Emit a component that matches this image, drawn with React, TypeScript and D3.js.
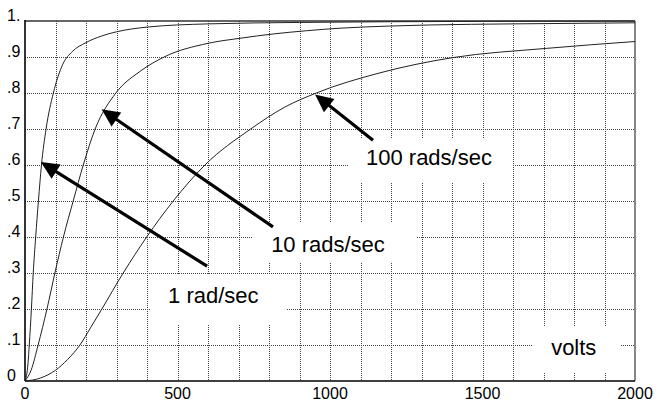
import React, { useRef, useEffect } from 'react';
import * as d3 from 'd3';

// curve data
const fastX = [0, 10, 14, 21, 27, 35, 44, 54, 69, 93, 124, 155, 200, 250, 300, 400, 600, 900, 1500, 2000];
const fastY = [0, 0.05, 0.1, 0.2, 0.3, 0.4, 0.5, 0.6, 0.7, 0.8, 0.88, 0.915, 0.94, 0.958, 0.97, 0.983, 0.992, 0.996, 0.999, 1.0];

const midX = [0, 20, 43, 72, 98, 126, 158, 191, 230, 298, 377, 456, 600, 705, 814, 923, 1033, 1197, 1328, 1600, 2000];
const midY = [0, 0.03, 0.1, 0.2, 0.3, 0.4, 0.5, 0.6, 0.7, 0.8, 0.86, 0.9, 0.938, 0.952, 0.964, 0.973, 0.98, 0.986, 0.989, 0.992, 0.995];

const slowX = [0, 50, 100, 140, 180, 215, 252, 322, 399, 486, 590, 740, 850, 955, 1164, 1400, 1710, 2000];
const slowY = [0, 0.008, 0.03, 0.06, 0.1, 0.148, 0.2, 0.3, 0.4, 0.5, 0.6, 0.7, 0.76, 0.8, 0.856, 0.898, 0.924, 0.943];

const xTickValues = [0, 500, 1000, 1500, 2000];
const xTickLabels = ['0', '500', '1000', '1500', '2000'];
const yTickValues = [1, 0.9, 0.8, 0.7, 0.6, 0.5, 0.4, 0.3, 0.2, 0.1, 0];
const yTickLabels = ['1.', '.9', '.8', '.7', '.6', '.5', '.4', '.3', '.2', '.1', '0'];

// labels: text anchor + white box, in data units
const labels = [
  { text: '1 rad/sec', x: 469, y: 0.217, box: [410, 856, 0.297, 0.156] },
  { text: '10 rads/sec', x: 807, y: 0.359, box: [748, 1285, 0.439, 0.331] },
  { text: '100 rads/sec', x: 1118, y: 0.599, box: [1059, 1597, 0.672, 0.55] },
  { text: 'volts', x: 1725, y: 0.072, box: [1666, 1951, 0.15, 0.022] },
];

// arrows: tail -> tip, in data units
const arrows = [
  { from: [597, 0.319], to: [52, 0.608] },
  { from: [813, 0.428], to: [251, 0.755] },
  { from: [1141, 0.669], to: [951, 0.796] },
];

const W = 659;
const H = 402;

const App = () => {
  const svgRef = useRef(null);

  useEffect(() => {
    const svg = d3.select(svgRef.current);
    svg.selectAll('*').remove();

    const x = d3.scaleLinear().domain([0, 2000]).range([25, 635]);
    const y = d3.scaleLinear().domain([0, 1]).range([381, 21]);

    // grid
    const grid = svg.append('g')
      .attr('stroke', '#444')
      .attr('stroke-width', 1)
      .attr('stroke-dasharray', '1,1');

    grid.selectAll('.vg')
      .data(d3.range(100, 2000, 100))
      .enter()
      .append('line')
      .attr('x1', d => Math.round(x(d)) + 0.5)
      .attr('x2', d => Math.round(x(d)) + 0.5)
      .attr('y1', y(1))
      .attr('y2', y(0));

    grid.selectAll('.hg')
      .data(d3.range(1, 10).map(d => d / 10))
      .enter()
      .append('line')
      .attr('x1', x(0))
      .attr('x2', x(2000))
      .attr('y1', d => Math.round(y(d)) + 0.5)
      .attr('y2', d => Math.round(y(d)) + 0.5);

    // white boxes behind labels
    svg.selectAll('.box')
      .data(labels)
      .enter()
      .append('rect')
      .attr('x', d => x(d.box[0]))
      .attr('y', d => y(d.box[2]))
      .attr('width', d => x(d.box[1]) - x(d.box[0]))
      .attr('height', d => y(d.box[3]) - y(d.box[2]))
      .attr('fill', '#fff');

    // frame
    svg.append('line')
      .attr('x1', x(0)).attr('x2', x(2000))
      .attr('y1', y(1)).attr('y2', y(1))
      .attr('stroke', '#333').attr('stroke-width', 1.6);
    svg.append('line')
      .attr('x1', x(2000)).attr('x2', x(2000))
      .attr('y1', y(1)).attr('y2', y(0))
      .attr('stroke', '#555').attr('stroke-width', 1.4);
    svg.append('line')
      .attr('x1', x(0)).attr('x2', x(0))
      .attr('y1', y(1) - 1).attr('y2', y(0))
      .attr('stroke', '#000').attr('stroke-width', 1.6);
    svg.append('line')
      .attr('x1', x(0)).attr('x2', x(2000))
      .attr('y1', y(0)).attr('y2', y(0))
      .attr('stroke', '#000').attr('stroke-width', 1.6);

    // curves
    const line = d3.line()
      .x(d => x(d[0]))
      .y(d => y(d[1]))
      .curve(d3.curveMonotoneX);

    const series = [
      d3.zip(fastX, fastY),
      d3.zip(midX, midY),
      d3.zip(slowX, slowY),
    ];

    svg.selectAll('.curve')
      .data(series)
      .enter()
      .append('path')
      .attr('d', d => line(d))
      .attr('fill', 'none')
      .attr('stroke', '#222')
      .attr('stroke-width', 1);

    // arrows
    arrows.forEach(a => {
      const x0 = x(a.from[0]), y0 = y(a.from[1]);
      const x1 = x(a.to[0]), y1 = y(a.to[1]);
      const dx = x1 - x0, dy = y1 - y0;
      const len = Math.sqrt(dx * dx + dy * dy);
      const ux = dx / len, uy = dy / len;
      const headLen = 18, headHalf = 8.5;
      const bx = x1 - ux * headLen, by = y1 - uy * headLen;
      svg.append('line')
        .attr('x1', x0).attr('y1', y0)
        .attr('x2', bx + ux * 2).attr('y2', by + uy * 2)
        .attr('stroke', '#000')
        .attr('stroke-width', 3.2);
      svg.append('path')
        .attr('d', `M${x1},${y1}L${bx - uy * headHalf},${by + ux * headHalf}L${bx + uy * headHalf},${by - ux * headHalf}Z`)
        .attr('fill', '#000');
    });

    // label text
    svg.selectAll('.label')
      .data(labels)
      .enter()
      .append('text')
      .attr('x', d => x(d.x))
      .attr('y', d => y(d.y))
      .attr('font-family', 'Liberation Sans, Arial, sans-serif')
      .attr('font-size', 22)
      .attr('fill', '#000')
      .text(d => d.text);

    // axis labels
    svg.selectAll('.xt')
      .data(xTickValues)
      .enter()
      .append('text')
      .attr('x', d => x(d))
      .attr('y', 399)
      .attr('text-anchor', 'middle')
      .attr('font-family', 'Liberation Sans, Arial, sans-serif')
      .attr('font-size', 16)
      .text((d, i) => xTickLabels[i]);

    svg.selectAll('.yt')
      .data(yTickValues)
      .enter()
      .append('text')
      .attr('x', 7)
      .attr('y', d => y(d) - 0.5)
      .attr('font-family', 'Liberation Sans, Arial, sans-serif')
      .attr('font-size', 16)
      .text((d, i) => yTickLabels[i]);
  }, []);

  return (
    <svg
      ref={svgRef}
      width={W}
      height={H}
      style={{ position: 'absolute', left: 0, top: 0, background: '#fff' }}
    ></svg>
  );
};

export default App;
